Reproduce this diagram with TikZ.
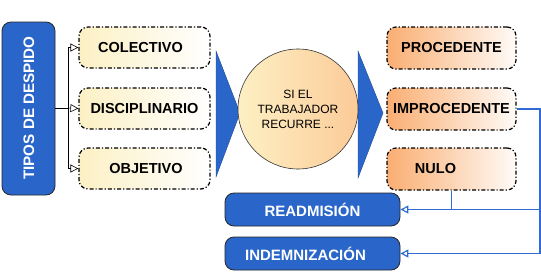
\documentclass[tikz,border=0pt]{standalone}
\usepackage{fontspec}
\setmainfont{Liberation Sans}
\usetikzlibrary{arrows.meta}
\definecolor{myblue}{HTML}{2A66CA}
\definecolor{lineblue}{HTML}{2F6BD0}
\definecolor{yell}{HTML}{FCF0C4}
\definecolor{oran}{HTML}{FAAE72}
\definecolor{circL}{HTML}{FDF0C4}
\definecolor{circR}{HTML}{FCCB98}
\tikzset{
  optbox/.style={draw=black, line width=1.2pt, dash pattern=on 4pt off 2pt on 1.2pt off 2pt,
    rounded corners=9pt, minimum width=131pt, minimum height=41pt,
    font=\fontsize{14.5}{17}\selectfont\bfseries, inner sep=0pt},
  yelbox/.style={optbox, left color=yell, right color=white},
  orabox/.style={optbox, left color=oran, right color=white!95!oran, minimum width=129pt, minimum height=42pt},
  bluebox/.style={draw=black!85, line width=0.8pt, fill=myblue, rounded corners=9pt,
    text=white, font=\fontsize{15}{17}\selectfont\bfseries, inner sep=0pt},
  chev/.style={fill=myblue, draw=myblue!70!black, line width=0.4pt},
  blackarrow/.style={-{Triangle[open, length=8pt, width=8pt]}, line width=0.6pt, black},
  bluearrow/.style={-{Triangle[open, length=8pt, width=8pt]}, line width=1.2pt, lineblue},
  blueline/.style={line width=1.2pt, lineblue},
}
\begin{document}
\begin{tikzpicture}[x=1pt, y=-1pt]
\useasboundingbox (0,0) rectangle (541,271);
% left blue box
\node[bluebox, minimum width=53pt, minimum height=173pt] (tipos) at (28.5,108.5) {};
\node[rotate=90, text=white, font=\fontsize{15.2}{17}\selectfont\bfseries] (tiposT) at (29,108) {TIPOS DE DESPIDO};
% yellow boxes
\node[yelbox] (colectivo) at (144.5,47.5) {\hspace*{-8pt}COLECTIVO};
\node[yelbox] (disciplinario) at (144.5,108.5) {DISCIPLINARIO};
\node[yelbox] (objetivo) at (144.5,168.5) {\hspace*{3pt}OBJETIVO};
% left connectors
\coordinate (j) at (68,108);
\draw[line width=0.6pt] (tipos.east |- j) -- (j);
\draw[blackarrow] (j) |- (colectivo.west);
\draw[blackarrow] (j) -- (disciplinario.west);
\draw[blackarrow] (j) |- (objetivo.west);
% chevrons
\draw[chev] (216,51) -- (240,113) -- (216,177) -- cycle;
\draw[chev] (358,51) -- (383,113) -- (358,178) -- cycle;
% circle
\node[circle, draw=black!80, line width=0.6pt, left color=circL, right color=circR,
  minimum size=120pt, inner sep=0pt, align=center,
  font=\fontsize{12}{15}\selectfont] (recurre) at (298,109) {SI EL\\TRABAJADOR\\RECURRE ...};
% orange boxes
\node[orabox] (procedente) at (451.5,48) {PROCEDENTE};
\node[orabox] (improcedente) at (451.5,109) {IMPROCEDENTE};
\node[orabox] (nulo) at (451.5,169) {\hspace*{-32pt}NULO};
% bottom blue boxes
\node[bluebox, minimum width=175pt, minimum height=33pt] (readmision) at (312.5,209.5) {READMISIÓN};
\node[bluebox, minimum width=175pt, minimum height=33pt] (indemnizacion) at (312.5,253.5) {\hspace*{-14pt}INDEMNIZACIÓN};
% right connectors
\coordinate (r2) at (540,253.5);
\coordinate (r3) at (540,209.5);
\draw[bluearrow] (improcedente.east) -| (r2) -- (indemnizacion.east);
\draw[bluearrow] (r3) -- (readmision.east);
\draw[blueline] (nulo.south) -- (nulo.south |- readmision.east);
\end{tikzpicture}
\end{document}
